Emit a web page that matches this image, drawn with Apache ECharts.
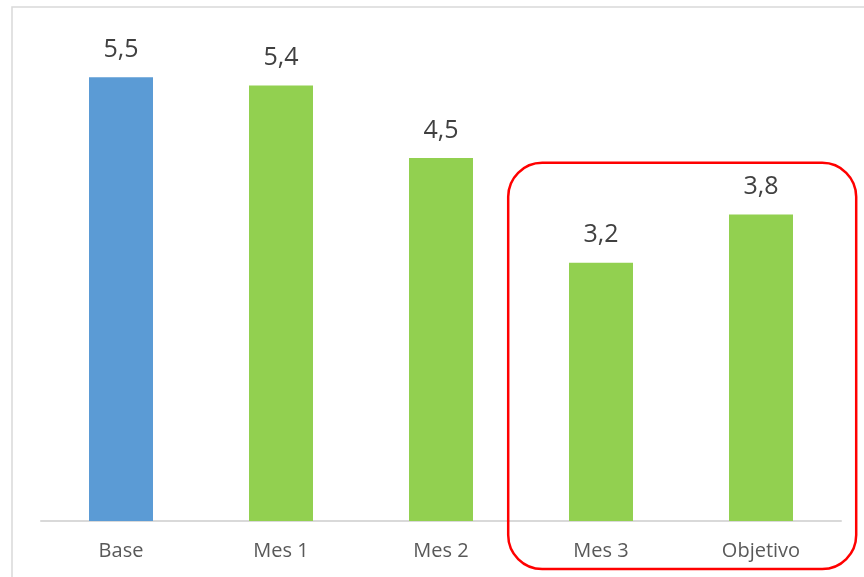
<!DOCTYPE html>
<html>
<head>
<meta charset="utf-8">
<script src="https://cdn.jsdelivr.net/npm/echarts@6/dist/echarts.min.js"></script>
<style>
html,body{margin:0;padding:0;background:#fff;}
#c{width:864px;height:577px;}
</style>
</head>
<body>
<div id="c"></div>
<script>
var categories = ['Base', 'Mes 1', 'Mes 2', 'Mes 3', 'Objetivo'];
var values = [5.5, 5.4, 4.5, 3.2, 3.8];
var barColors = ['#5B9BD5', '#92D050', '#92D050', '#92D050', '#92D050'];
var highlighted = ['Mes 3', 'Objetivo'];

var chart = echarts.init(document.getElementById('c'), null, {renderer: 'canvas'});
var option = {
  animation: false,
  backgroundColor: '#fff',
  grid: {left: 41, right: 23, top: 37, bottom: 56},
  xAxis: {
    type: 'category',
    data: categories,
    axisLine: {lineStyle: {color: '#D9D9D9', width: 2}},
    axisTick: {show: false},
    axisLabel: {color: '#595959', fontSize: 20, fontFamily: 'Open Sans', margin: 20}
  },
  yAxis: {type: 'value', min: 0, max: 6, show: false, splitLine: {show: false}},
  series: [{
    type: 'bar',
    barWidth: '40%',
    data: values.map(function (v, i) { return {value: v, itemStyle: {color: barColors[i]}}; }),
    label: {
      show: true, position: 'top', distance: 15,
      color: '#404040', fontSize: 25, fontFamily: 'Open Sans',
      formatter: function (p) { return String(p.value).replace('.', ','); }
    }
  }]
};
chart.setOption(option);

var x0 = chart.convertToPixel({xAxisIndex: 0}, highlighted[0]);
var x1 = chart.convertToPixel({xAxisIndex: 0}, highlighted[1]);
var band = x1 - x0;
var yTop = chart.convertToPixel({yAxisIndex: 0}, 4.44);
var yAxisPx = chart.convertToPixel({yAxisIndex: 0}, 0);
var left = x0 - band * 0.58, right = x1 + band * 0.595;
var bottom = yAxisPx + 48;
chart.setOption({
  graphic: [
    {type: 'rect', shape: {x: 12, y: 7, width: 900, height: 600}, style: {fill: 'none', stroke: '#D9D9D9', lineWidth: 1.5}, z: -1},
    {type: 'rect', shape: {x: left, y: yTop, width: right - left, height: bottom - yTop, r: 34},
     style: {fill: 'none', stroke: '#FF0000', lineWidth: 2.5}, z: 10}
  ]
});
</script>
</body>
</html>
